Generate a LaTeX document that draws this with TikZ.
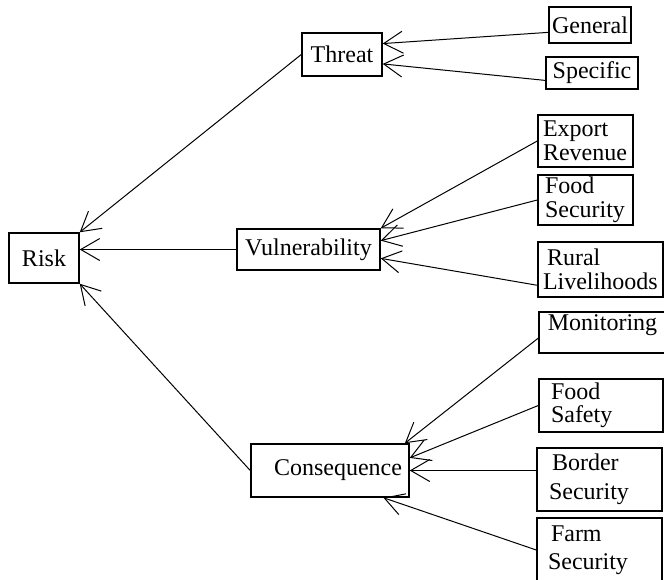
\documentclass[tikz,border=0pt]{standalone}
\usepackage{fontspec}
\setmainfont{Liberation Serif}
\usetikzlibrary{arrows.meta}
\tikzset{
  box/.style={draw, line width=1.5pt, rectangle, inner xsep=3pt, inner ysep=2pt,
    font=\fontsize{24}{23.5}\selectfont},
  twoline/.style={box, align=left, inner xsep=5pt},
  link/.style={line width=1pt, -{Straight Barb[length=19pt, width=22pt]}}
}
\begin{document}
\begin{tikzpicture}[x=1pt, y=-1pt]
    \useasboundingbox (0,0) rectangle (664,579);

    % left and middle
    \node[box, minimum width=70pt, minimum height=50pt] (risk) at (44,258) {Risk};
    \node[box, minimum width=80pt, minimum height=43pt] (threat) at (342,54.5) {Threat};
    \node[box, minimum width=143pt, minimum height=41pt] (vuln) at (308.5,249.5) {Vulnerability};
    \node[box, minimum width=158pt, minimum height=53pt] (cons) at (330,470.5) {\hspace*{16pt}Consequence};

    % right column
    \node[box, minimum width=80pt, minimum height=36pt] (general) at (590,25) {General};
    \node[box, minimum width=92pt, minimum height=32pt] (specific) at (592,73) {Specific};
    \node[twoline, text width=85pt, minimum height=52pt] (export) at (585.5,141) {Export\\Revenue};
    \node[twoline, inner xsep=7pt, text width=81pt, minimum height=50pt] (foodsec) at (585.5,200) {Food\\Security};
    \node[twoline, text width=115pt, minimum height=55pt] (rural) at (600.5,269.5) {\hspace*{4pt}Rural\\Livelihoods};
    \node[box, minimum width=127pt, minimum height=41pt, text depth=20pt] (monitor) at (602.5,332.5) {Monitoring};
    \node[twoline, inner xsep=12pt, text width=100pt, minimum height=53pt] (foodsafe) at (601,405.5) {Food\\Safety};
    \node[twoline, inner xsep=12pt, text width=101pt, minimum height=63pt] (border) at (599.5,479.5) {\hspace*{3pt}Border\\[5pt]Security};
    \node[twoline, inner xsep=11pt, text width=103pt, minimum height=64pt] (farm) at (599.5,550) {\hspace*{3pt}Farm\\[4pt]Security};

    % into Risk
    \draw[link] (threat.west) -- (risk.north east);
    \draw[link] (vuln.west) -- (vuln.west -| risk.east);
    \draw[link] (cons.west) -- (risk.south east);

    % into Threat
    \draw[link] (general.190) -- (threat.15);
    \draw[link] (specific.189) -- (threat.-13);

    % into Vulnerability
    \draw[link] (export.west) -- (vuln.north east);
    \draw[link] (foodsec.west) -- (vuln.7);
    \draw[link] (rural.194) -- (vuln.-7);

    % into Consequence
    \draw[link] (monitor.185) -- (cons.20);
    \draw[link] (foodsafe.west) -- (cons.9);
    \draw[link] (cons.east -| border.west) -- (cons.east);
    \draw[link] (farm.west) -- (cons.-27);
\end{tikzpicture}
\end{document}
